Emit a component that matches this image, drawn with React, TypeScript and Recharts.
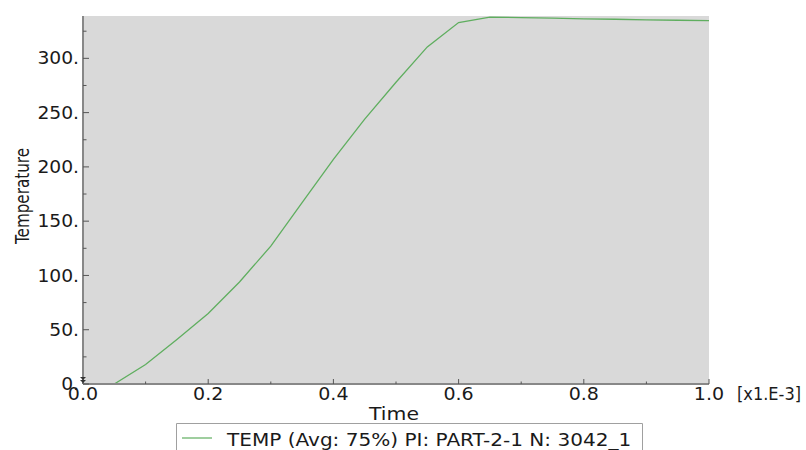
import React from 'react';
import { LineChart, Line, XAxis, YAxis, CartesianGrid, Legend } from 'recharts';

const times = [0.05, 0.1, 0.15, 0.2, 0.25, 0.3, 0.35, 0.4, 0.45, 0.5, 0.55, 0.6, 0.65, 0.7, 0.75, 0.8, 0.85, 0.9, 0.95, 1.0];
const temps = [0, 18, 41, 65, 94, 127, 167, 207, 244, 278, 310.5, 333, 338, 337.5, 337, 336.3, 336, 335.5, 335.1, 334.7];

const xMajorTicks = [0, 0.2, 0.4, 0.6, 0.8, 1.0];
const xMinorTicks = [0.1, 0.3, 0.5, 0.7, 0.9];
const xTickLabels = ['0.0', '0.2', '0.4', '0.6', '0.8', '1.0'];
const xUnitLabel = '[x1.E-3]';

const yMajorTicks = [0, 50, 100, 150, 200, 250, 300];
const yMinorTicks = [25, 75, 125, 175, 225, 275, 325];
const yTickLabels = ['0.', '50.', '100.', '150.', '200.', '250.', '300.'];

const seriesName = 'TEMP (Avg: 75%) PI: PART-2-1 N: 3042_1';
const xTitle = 'Time';
const yTitle = 'Temperature';

const data = times.map((t, i) => ({ t, temp: temps[i] }));
const xTicks = [...xMajorTicks, ...xMinorTicks].sort((a, b) => a - b);
const yTicks = [...yMajorTicks, ...yMinorTicks].sort((a, b) => a - b);

const FONT = '"DejaVu Sans", Verdana, sans-serif';
const TXT = '#1a1a1a';
const TICK = '#555';
const FRAME = '#888';
const GREEN = '#5fae5f';

const renderXBottomTick = (props: any) => {
  const { x, y, payload } = props;
  const idx = xMajorTicks.indexOf(payload.value);
  const major = idx >= 0;
  return (
    <g>
      <line x1={x} x2={x} y1={y} y2={y - (major ? 5 : 2.5)} stroke={TICK} strokeWidth={1} />
      {major && (
        <text transform={`translate(${x},${y + 16}) scale(1.12,1)`} textAnchor="middle" fontFamily={FONT} fontSize={17} fill={TXT}>
          {xTickLabels[idx]}
        </text>
      )}
      {major && idx === xMajorTicks.length - 1 && (
        <text x={x + 28} y={y + 16} textLength={64} lengthAdjust="spacingAndGlyphs" textAnchor="start" fontFamily={FONT} fontSize={17} fill={TXT}>
          {xUnitLabel}
        </text>
      )}
    </g>
  );
};

const renderXTopTick = (props: any) => {
  const { x, y, payload } = props;
  const major = xMajorTicks.indexOf(payload.value) >= 0;
  return <line x1={x} x2={x} y1={y} y2={y + (major ? 5 : 2.5)} stroke={TICK} strokeWidth={1} />;
};

const renderYLeftTick = (props: any) => {
  const { x, y, payload } = props;
  const idx = yMajorTicks.indexOf(payload.value);
  const major = idx >= 0;
  return (
    <g>
      <line x1={x} x2={x + (major ? 6 : 3.5)} y1={y} y2={y} stroke={TICK} strokeWidth={1} />
      {major && (
        <text transform={`translate(${x - 4},${y}) scale(1.1,1)`} dy="0.36em" textAnchor="end" fontFamily={FONT} fontSize={17} fill={TXT}>
          {yTickLabels[idx]}
        </text>
      )}
      {payload.value === 0 && (
        <g fill="#333">
          <path d={`M${x - 3},${y - 7} L${x + 3},${y - 7} L${x},${y - 4} Z`} />
          <path d={`M${x - 3},${y - 4} L${x + 3},${y - 4} L${x},${y - 1} Z`} />
        </g>
      )}
    </g>
  );
};

const renderYRightTick = (props: any) => {
  const { x, y, payload } = props;
  const major = yMajorTicks.indexOf(payload.value) >= 0;
  return <line x1={x} x2={x - (major ? 6 : 3.5)} y1={y} y2={y} stroke={TICK} strokeWidth={1} />;
};

const renderXTitle = (props: any) => {
  const vb = props.viewBox || {};
  const cx = (vb.x || 0) + (vb.width || 0) / 2 - 2;
  const by = (vb.y || 0) + 36;
  return (
    <text transform={`translate(${cx},${by}) scale(1.2,1)`} textAnchor="middle" fontFamily={FONT} fontSize={17} fill={TXT}>
      {xTitle}
    </text>
  );
};

const renderYTitle = (props: any) => {
  const vb = props.viewBox || {};
  const cy = (vb.y || 0) + (vb.height || 0) / 2 - 4;
  return (
    <text transform={`translate(22,${cy}) scale(1.25,1) rotate(-90)`} dy="0.36em" textAnchor="middle" fontFamily={FONT} fontSize={15.2} fill={TXT}>
      {yTitle}
    </text>
  );
};

const renderLegend = () => (
  <svg width={467} height={27} style={{ display: 'block' }}>
    <path d="M0.5,27 V0.5 H466.5 V27" fill="#fff" stroke="#a0a0a0" strokeWidth={1} />
    <line x1={6} x2={36} y1={15} y2={15} stroke={GREEN} strokeWidth={1.2} />
    <text transform="translate(51,23) scale(1.18,1)" fontFamily={FONT} fontSize={17} fill={TXT}>
      {seriesName}
    </text>
  </svg>
);

export default function App() {
  return (
    <div style={{ position: 'absolute', left: 0, top: 0, width: 806, height: 450, background: '#fff', overflow: 'hidden' }}>
      <LineChart width={806} height={450} data={data} margin={{ top: 16, right: 97, bottom: 0, left: 0 }}>
        <CartesianGrid fill="#d9d9d9" horizontal={false} vertical={false} stroke="none" />
        <XAxis
          dataKey="t"
          type="number"
          domain={[0, 1]}
          allowDataOverflow
          ticks={xTicks}
          interval={0}
          height={66}
          tickSize={0}
          tickMargin={0}
          tickLine={false}
          tick={renderXBottomTick}
          axisLine={{ stroke: FRAME, strokeWidth: 2 }}
          label={renderXTitle}
        />
        <XAxis
          xAxisId="top"
          orientation="top"
          dataKey="t"
          type="number"
          domain={[0, 1]}
          allowDataOverflow
          ticks={xTicks}
          interval={0}
          height={0}
          tickSize={0}
          tickMargin={0}
          tickLine={false}
          tick={renderXTopTick}
          axisLine={{ stroke: FRAME, strokeWidth: 2 }}
        />
        <YAxis
          type="number"
          domain={[0, 339]}
          allowDataOverflow
          ticks={yTicks}
          interval={0}
          width={83}
          tickSize={0}
          tickMargin={0}
          tickLine={false}
          tick={renderYLeftTick}
          axisLine={{ stroke: FRAME, strokeWidth: 2 }}
          label={renderYTitle}
        />
        <YAxis
          yAxisId="right"
          orientation="right"
          type="number"
          domain={[0, 339]}
          allowDataOverflow
          ticks={yTicks}
          interval={0}
          width={0}
          tickSize={0}
          tickMargin={0}
          tickLine={false}
          tick={renderYRightTick}
          axisLine={{ stroke: FRAME, strokeWidth: 2 }}
        />
        <Line
          dataKey="temp"
          name={seriesName}
          type="linear"
          stroke={GREEN}
          strokeWidth={1.3}
          dot={false}
          activeDot={false}
          isAnimationActive={false}
        />
        <Legend
          layout="horizontal"
          verticalAlign="middle"
          align="center"
          content={renderLegend}
          wrapperStyle={{ position: 'absolute', left: 176, top: 423, width: 467, height: 27 }}
        />
      </LineChart>
    </div>
  );
}
